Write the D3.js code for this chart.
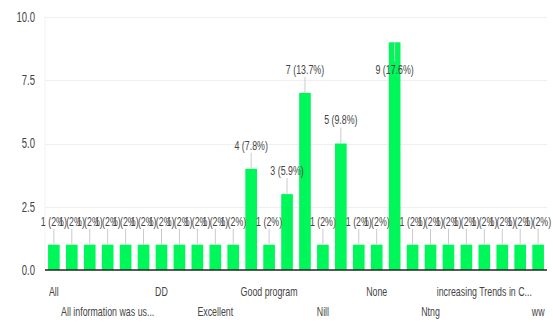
<!DOCTYPE html>
<html>
<head>
<meta charset="utf-8">
<script src="https://cdn.jsdelivr.net/npm/d3@7"></script>
<style>
  body { margin: 0; background: #fff; }
  text { font-family: "Liberation Sans", Arial, sans-serif; fill: #444; }
</style>
</head>
<body>
<div id="chart"></div>
<script>
// answers (alphabetical, as the form sorts them) - only every 3rd name is shown on the axis
const categories = [
  "All", "All good", "All ideas", "All information was us...", "Awesome", "Best",
  "DD", "Easy", "Everything", "Excellent", "Fine", "Good",
  "Good program", "Good session", "Informative", "Nill", "Nice", "No",
  "None", "Nothing", "Nothing in particular", "Ntng", "Ok", "Satisfied",
  "increasing Trends in C...", "Useful", "Very good", "ww"
]
const counts = [
  1, 1, 1, 1, 1, 1, 1, 1, 1, 1, 1, 4,
  1, 3, 7, 1, 5, 1, 1, 9, 1, 1, 1, 1,
  1, 1, 1, 1
]
const yTicks = [0, 2.5, 5, 7.5, 10]

//the original is squeezed sideways, so draw wide and squash the whole svg
const squeeze = 0.68
const W = 553 / squeeze, H = 322
const total = d3.sum(counts)

let svg = d3.select("#chart")
.append("svg")
.attr("width", 553)
.attr("height", H)
.attr("viewBox", "0 0 " + W + " " + H)
.attr("preserveAspectRatio", "none")

let area = { left: 45 / squeeze, right: 547 / squeeze, top: 16, bottom: 270 }

const xScale = d3.scaleBand()
.domain(d3.range(categories.length))
.range([area.left, area.right])
.paddingInner(0.35)
.paddingOuter(0.17)

const yScale = d3.scaleLinear()
.domain([0, 10])
.range([area.bottom, 17])

//gridlines
svg.append("g")
.selectAll("line")
.data(yTicks.slice(1))
.join("line")
.attr("x1", area.left).attr("x2", area.right)
.attr("y1", d => Math.round(yScale(d)) + 0.5).attr("y2", d => Math.round(yScale(d)) + 0.5)
.attr("stroke", "#ececec")

svg.append("line")
.attr("x1", area.left).attr("x2", area.left)
.attr("y1", area.top).attr("y2", area.bottom)
.attr("stroke", "#f0f0f0")

//y axis labels
let yAxis = d3.axisLeft(yScale)
.tickValues(yTicks)
.tickFormat(d3.format(".1f"))
.tickSize(0)
.tickPadding(10 / squeeze)

svg.append("g")
.attr("transform", "translate(" + area.left + ",0)")
.call(yAxis)
.call(g => g.select(".domain").remove())
.selectAll("text")
.attr("font-size", 14)
.attr("fill", "#444")
.attr("font-family", "Liberation Sans, Arial, sans-serif")

//bars
svg.append("g")
.selectAll("rect")
.data(counts)
.join("rect")
.attr("x", (d, i) => xScale(i))
.attr("width", xScale.bandwidth())
.attr("y", d => yScale(d))
.attr("height", d => yScale(0) - yScale(d))
.attr("fill", "#00f75a")

//value labels with a small leader line
function labelPos(d) {
  let top = yScale(d)
  //no room above the chart area -> label goes down into the bar
  if (top - 30 < area.top) return { base: top + 32, l1: top, l2: top + 19 }
  return { base: top - 19, l1: top - 16, l2: top }
}

//percent with one decimal, "2.0" -> "2"
const pct = d => d3.format(".1f")(d / total * 100).replace(/\.0$/, "")

let labels = svg.append("g")
.selectAll("g")
.data(counts)
.join("g")
.attr("transform", (d, i) => "translate(" + (xScale(i) + xScale.bandwidth() / 2) + ",0)")

labels.append("line")
.attr("y1", d => labelPos(d).l1)
.attr("y2", d => labelPos(d).l2)
.attr("stroke", "#c8c8c8")
.attr("stroke-width", 1.4)

labels.append("text")
.attr("y", d => labelPos(d).base)
.attr("text-anchor", "middle")
.attr("font-size", 13)
.text(d => d + " (" + pct(d) + "%)")

//x axis: every 3rd category, two staggered rows
let xAxis = d3.axisBottom(xScale)
.tickValues(d3.range(0, categories.length, 3))
.tickFormat(i => categories[i])
.tickSize(0)

let xg = svg.append("g")
.attr("transform", "translate(0," + area.bottom + ")")
.call(xAxis)

xg.select(".domain").remove()
xg.selectAll("text")
.attr("font-size", 13)
.attr("fill", "#333")
.attr("font-family", "Liberation Sans, Arial, sans-serif")
.attr("dy", null)
.attr("y", (i, k) => k % 2 === 0 ? 26 : 46)

//baseline
svg.append("line")
.attr("x1", area.left).attr("x2", area.right)
.attr("y1", area.bottom).attr("y2", area.bottom)
.attr("stroke", "#222")
.attr("stroke-width", 1.6)
</script>
</body>
</html>
